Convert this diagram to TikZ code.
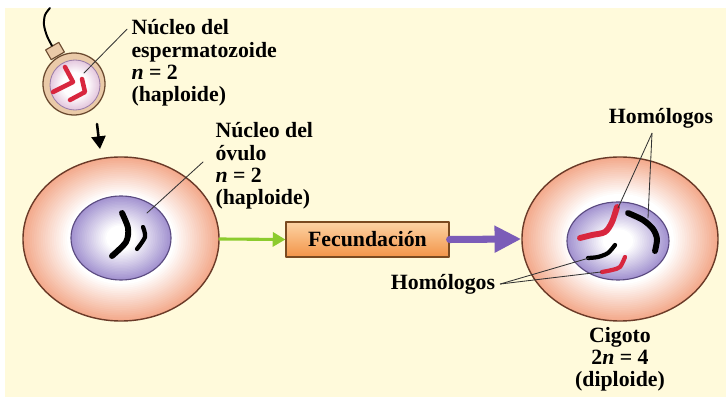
\documentclass[tikz,border=0pt]{standalone}
\usepackage{fontspec}
\setmainfont{Liberation Serif}
\usetikzlibrary{%
	arrows.meta,%
	shapes.geometric,% wg. ellipse
	positioning,%
	calc%
}
\definecolor{cream}{HTML}{FFFADB}
\definecolor{cellsalmon}{HTML}{F3AA8C}
\definecolor{cellborder}{HTML}{6B3A28}
\definecolor{nuclav}{HTML}{A393D0}
\definecolor{nucborder}{HTML}{5A4A80}
\definecolor{spermtan}{HTML}{EACAA8}
\definecolor{spermborder}{HTML}{6B4A30}
\definecolor{spermpink}{HTML}{E5C8DE}
\definecolor{spermnucborder}{HTML}{9A7EA8}
\definecolor{chromred}{HTML}{D8263E}
\definecolor{boxlight}{HTML}{FDD3A4}
\definecolor{boxdark}{HTML}{F29448}
\definecolor{boxborder}{HTML}{7A4A20}
\definecolor{arrowgreen}{HTML}{8CCB2E}
\definecolor{arrowpurple}{HTML}{7B5CB8}
\definecolor{leadgray}{HTML}{333333}

\begin{document}
\begin{tikzpicture}[
x=0.025cm,y=-0.025cm,
>=latex,thick,line cap=round,line join=round,
every node/.style={font=\bfseries\fontsize{15.5}{15.8}\selectfont},
cell/.style={ellipse,draw=cellborder,line width=1pt,
minimum width=4.9cm,minimum height=4.1cm,inner sep=0pt},
nucleus/.style={ellipse,draw=nucborder,line width=.8pt,inner sep=0pt},
chromo/.style={line width=4.2pt},
leader/.style={draw=leadgray,line width=.6pt},
lbl/.style={inner sep=0pt,align=left}
]
\useasboundingbox (0,0) rectangle (726,399);
\fill[cream] (5,8) rectangle (726,397);

% espermatozoide
\node[draw=spermborder,fill=spermtan,rotate=30,line width=.8pt,
minimum width=0.38cm,minimum height=0.28cm,inner sep=0pt] (neck) at (55,51) {};
\draw[line width=1.4pt] plot[smooth] coordinates {(neck.north) (47,36) (44,25) (45,15) (50,8)};
\node[circle,draw=spermborder,fill=spermtan,line width=.9pt,
minimum size=1.55cm,inner sep=0pt] (sperm) at (74,84) {};
\foreach \k in {0,...,12}{
  \pgfmathsetmacro\p{100-8*\k}
  \pgfmathsetmacro\s{25*(1-0.04*\k)}
  \fill[spermpink!\p!white] (75,85) circle (\s);
}
\node[circle,draw=spermnucborder,line width=.6pt,
minimum size=1.25cm,inner sep=0pt] (spnuc) at (75,85) {};
\draw[chromo,chromred,line width=3.2pt] (65,67) -- (73,82) -- (53,92);
\draw[chromo,chromred,line width=3.2pt] (82,79) -- (85,92) -- (70,100);
\coordinate (spermtip) at (84,73);

\coordinate (dropstart) at (97,124);
\coordinate (dropend)   at (100,149);
\draw[line width=1.8pt,-{Triangle[length=9pt,width=10pt]}] (dropstart) -- (dropend);

% ovulo
\foreach \k in {0,...,20}{
  \pgfmathsetmacro\p{100-5*\k}
  \pgfmathsetmacro\s{1-0.0225*\k}
  \fill[cellsalmon!\p!white] (121,239) ellipse ({98*\s} and {82*\s});
}
\node[cell] (ovum) at (121,239) {};
\foreach \k in {0,...,20}{
  \pgfmathsetmacro\p{100-5*\k}
  \pgfmathsetmacro\s{1-0.035*\k}
  \fill[nuclav!\p!white] (121,238) ellipse ({50*\s} and {42*\s});
}
\node[nucleus,minimum width=2.5cm,minimum height=2.1cm] (ovnuc) at (121,238) {};
\draw[chromo] plot[smooth] coordinates {(122,213) (128,228) (126,242) (112,256)};
\draw[chromo,line width=3pt] plot[smooth] coordinates {(143,227) (145,237) (137,249)};
\coordinate (ovtip) at (147,213);

% cigoto
\foreach \k in {0,...,20}{
  \pgfmathsetmacro\p{100-5*\k}
  \pgfmathsetmacro\s{1-0.0225*\k}
  \fill[cellsalmon!\p!white] (620,239) ellipse ({98*\s} and {82*\s});
}
\node[cell] (zygote) at (620,239) {};
\foreach \k in {0,...,20}{
  \pgfmathsetmacro\p{100-5*\k}
  \pgfmathsetmacro\s{1-0.035*\k}
  \fill[nuclav!\p!white] (618,241) ellipse ({51*\s} and {39*\s});
}
\node[nucleus,minimum width=2.55cm,minimum height=1.95cm] (zynuc) at (618,241) {};
\draw[chromo,chromred] plot[smooth] coordinates {(617,207) (612,222) (605,232) (592,235) (580,238)};
\draw[chromo] plot[smooth] coordinates {(628,213) (643,220) (653,229) (657,239) (655,251)};
\draw[chromo,line width=3pt] plot[smooth] coordinates {(615,245) (608,253) (598,257) (588,258)};
\draw[chromo,chromred,line width=3pt] plot[smooth] coordinates {(625,257) (620,267) (612,270) (602,272)};
\coordinate (hom1) at (618,208);
\coordinate (hom2) at (648,218);
\coordinate (hom3) at (589,258);
\coordinate (hom4) at (601,272);

% Fecundacion
\node[draw=boxborder,line width=.8pt,top color=boxlight,bottom color=boxdark,
minimum width=4.075cm,minimum height=0.875cm] (fecund) at (367.5,239.5) {Fecundación};
\draw[line width=2.2pt,arrowgreen,-{Triangle[length=9pt,width=10pt]}] (ovum.east) -- (fecund.west);
\draw[line width=5pt,arrowpurple,-{Triangle[length=19pt,width=18pt]}] (fecund.east) -- (zygote.west);

% Texte
\node[lbl,anchor=west] (splbl) at (131,63) {Núcleo del\\espermatozoide\\\textit{n} = 2\\(haploide)};
\node[lbl,anchor=west] (ovlbl) at (215,166) {Núcleo del\\óvulo\\\textit{n} = 2\\(haploide)};
\node[lbl,align=center] (cigoto) at (620,359) {Cigoto\\2\textit{n} = 4\\(diploide)};
\node (homtop) at (661,118) {Homólogos};
\node (hombot) at (443,284) {Homólogos};
\coordinate (topapex) at ($(homtop.south)+(-9,0)$);

\draw[leader] ($(splbl.north west)+(-4,10)$) -- (spermtip);
\draw[leader] ($(ovlbl.west)+(-12,-4)$) -- (ovtip);
\draw[leader] (topapex) -- (hom1);
\draw[leader] (topapex) -- (hom2);
\draw[leader] (hombot.east) -- (hom3);
\draw[leader] (hombot.east) -- (hom4);
\end{tikzpicture}
\end{document}
